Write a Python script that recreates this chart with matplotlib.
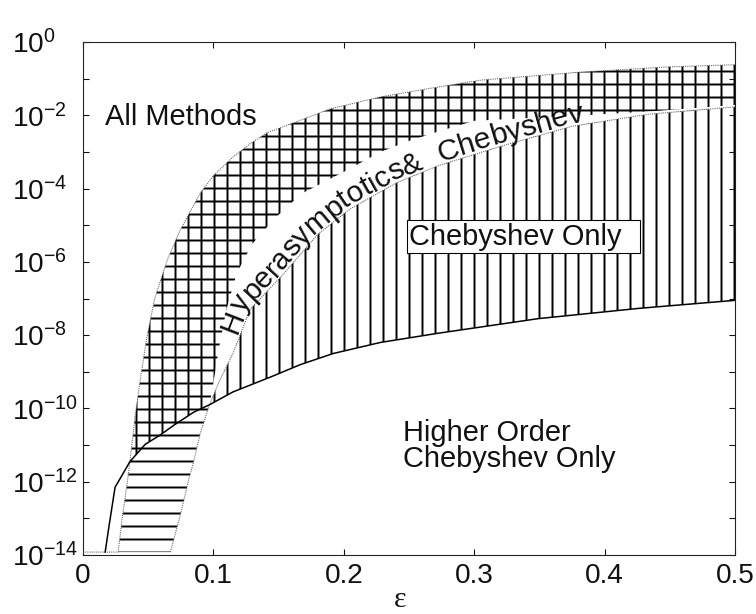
import numpy as np
import matplotlib
matplotlib.use("Agg")
import matplotlib.pyplot as plt
from matplotlib.font_manager import FontProperties
from matplotlib.ticker import FixedLocator, FuncFormatter, NullLocator

DPI = 78          # 72pt hatch cell / 6 lines -> ~13 px hatch spacing
W, H = 756, 614
FLOOR = -13.92    # log10 of the lowest error plotted


def pt(px):
    return px * 72.0 / DPI


plt.rcParams["font.family"] = ["Liberation Sans", "DejaVu Sans"]
plt.rcParams["mathtext.default"] = "regular"
plt.rcParams["hatch.linewidth"] = 1.8

# boundaries in the (epsilon, log10 error) plane
upper_eps = [0.0, 0.027, 0.030, 0.034, 0.036, 0.040, 0.044, 0.049, 0.055,
             0.0646, 0.0746, 0.090, 0.100, 0.115, 0.128, 0.141, 0.167,
             0.190, 0.228, 0.267, 0.305, 0.344, 0.382, 0.449, 0.500]
upper_log = [FLOOR, FLOOR, -13.0, -12.0, -11.45, -10.2, -9.2, -8.05, -7.0,
             -5.95, -5.13, -4.12, -3.65, -3.14, -2.78, -2.48, -2.13,
             -1.82, -1.50, -1.26, -1.04, -0.93, -0.82, -0.68, -0.62]

lower_eps = [0.067, 0.075, 0.081, 0.0845, 0.090, 0.097, 0.105, 0.115, 0.122,
             0.128, 0.152, 0.180, 0.205, 0.240, 0.272, 0.320, 0.375, 0.434,
             0.500]
lower_log = [FLOOR, -12.86, -11.95, -11.5, -10.67, -9.9, -9.22, -8.5, -7.86,
             -7.3, -6.4, -5.25, -4.55, -3.85, -3.38, -2.85, -2.3, -1.97,
             -1.77]

strip_eps = [0.097, 0.100, 0.104, 0.110, 0.118, 0.130, 0.146, 0.167, 0.205,
             0.228, 0.250, 0.270, 0.300, 0.385, 0.440, 0.500]
strip_log = [-9.9, -9.3, -8.4, -7.3, -6.3, -5.5, -4.85, -4.15, -3.45,
             -3.0, -2.7, -2.47, -2.15, -2.0, -1.88, -1.72]

cheb_eps = [0.017, 0.020, 0.0246, 0.030, 0.036, 0.0477, 0.059, 0.070, 0.085,
            0.097, 0.115, 0.144, 0.167, 0.192, 0.228, 0.272, 0.349, 0.426,
            0.500]
cheb_log = [FLOOR, -13.2, -12.15, -11.82, -11.45, -10.98, -10.73, -10.45,
            -10.1, -9.9, -9.55, -9.14, -8.8, -8.5, -8.2, -7.95, -7.55, -7.27,
            -7.05]

band_label = "Hyperasymptotics&  Chebyshev"


def xy(eps, logs):
    return np.asarray(eps, float), 10.0 ** np.asarray(logs, float)


ux, uy = xy(upper_eps, upper_log)
lx, ly = xy(lower_eps, lower_log)
sx, sy = xy(strip_eps, strip_log)
cx, cy = xy(cheb_eps, cheb_log)

fig = plt.figure(figsize=(W / DPI, H / DPI), dpi=DPI)
ax = fig.add_axes([83 / W, 59 / H, 652 / W, 513 / H])
ax.set_yscale("log")
ax.set_xlim(0, 0.5)
ax.set_ylim(1e-14, 1)

# hyperasymptotics: between the upper curve and the lower curve
m = ux >= 0.027
hx = np.concatenate([ux[m], lx[::-1]])
hy = np.concatenate([uy[m], ly[::-1]])
ax.fill(hx, hy, facecolor="none", edgecolor="black", hatch="-", lw=0, zorder=1)

# Chebyshev: above the solid curve, below the upper curve
mc = cx >= 0.036
mu = ux >= 0.036
vx = np.concatenate([cx[mc], ux[mu][::-1]])
vy = np.concatenate([cy[mc], uy[mu][::-1]])
ax.fill(vx, vy, facecolor="none", edgecolor="black", hatch="|", lw=0, zorder=1)

# white strip carrying the curved label
mb = lx >= 0.097
bx = np.concatenate([lx[mb], sx[::-1]])
by = np.concatenate([ly[mb], sy[::-1]])
ax.fill(bx, by, facecolor="white", edgecolor="none", zorder=2)

ax.plot(ux, uy, color="#666666", lw=1.0, ls=(0, (1, 1)), zorder=3)
ax.plot(lx, ly, color="#666666", lw=1.0, ls=(0, (1, 1)), zorder=3)
ax.plot(cx, cy, color="black", lw=1.4, zorder=3)

# axes styling
for sp in ax.spines.values():
    sp.set_linewidth(1.0)
    sp.set_color("#222222")
ax.xaxis.set_major_locator(FixedLocator([0, 0.1, 0.2, 0.3, 0.4, 0.5]))
ax.xaxis.set_major_formatter(FuncFormatter(lambda v, p: f"{v:g}"))
decades = np.arange(-14, 1)
ax.yaxis.set_major_locator(FixedLocator(10.0 ** decades))
ax.yaxis.set_minor_locator(NullLocator())


def ylab(v, p):
    e = int(round(np.log10(v)))
    return f"$10^{{{e}}}$" if e % 2 == 0 else ""


ax.yaxis.set_major_formatter(FuncFormatter(ylab))
ax.tick_params(direction="in", length=pt(6), width=1.0, top=True, right=True,
               labelsize=pt(28), colors="#111111")
ax.tick_params(axis="x", pad=pt(8))
ax.tick_params(axis="y", pad=pt(71))
for lbl in ax.get_yticklabels():
    lbl.set_horizontalalignment("left")

txt_kw = dict(fontsize=pt(29), color="#111111", zorder=5)
ax.text(0.017, 10 ** -2.265, "All Methods", va="baseline", **txt_kw)
ax.text(0.2454, 10 ** -11.6, "Higher Order\nChebyshev Only", va="baseline",
        linespacing=0.92, **txt_kw)
ax.text(0.25, 10 ** -5.31, "Chebyshev Only  ", va="center", ha="left",
        bbox=dict(boxstyle="square,pad=0.08", fc="white", ec="black", lw=1.0),
        **txt_kw)

fig.text(400 / W, 1 - 600 / H, "ε", ha="center", va="center",
         family="Liberation Serif", fontsize=pt(30), color="#111111")

# curved label following the lower boundary
fig.canvas.draw()
rend = fig.canvas.get_renderer()
fp = FontProperties(family="Liberation Sans", size=pt(30))

pts = ax.transData.transform(np.column_stack([lx[mb], ly[mb]]))
tang = np.gradient(pts, axis=0)
tang /= np.linalg.norm(tang, axis=1)[:, None]
normal = np.column_stack([-tang[:, 1], tang[:, 0]])
base = pts + 3 * normal
arc = np.concatenate([[0], np.cumsum(np.hypot(*np.diff(base, axis=0).T))])
fine = np.linspace(0, arc[-1], 3000)
fxp = np.interp(fine, arc, base[:, 0])
fyp = np.interp(fine, arc, base[:, 1])
start = np.array([224, H - 330])
s = fine[np.argmin(np.hypot(fxp - start[0], fyp - start[1]))]


def at(si):
    return np.array([np.interp(si, arc, base[:, 0]), np.interp(si, arc, base[:, 1])])


w_bar = rend.get_text_width_height_descent("||", fp, ismath=False)[0]
inv = ax.transData.inverted()
for ch in band_label:
    w = rend.get_text_width_height_descent("|" + ch + "|", fp, ismath=False)[0] - w_bar
    p0, p1 = at(s), at(s + w)
    ang = np.degrees(np.arctan2(p1[1] - p0[1], p1[0] - p0[0]))
    mid = at(s + w / 2)
    if ch.strip():
        dx, dy = inv.transform(mid)
        ax.text(dx, dy, ch, fontproperties=fp, rotation=ang, rotation_mode="anchor",
                ha="center", va="baseline", color="#111111", zorder=5)
    s += w

fig.savefig("out.png", dpi=DPI)
